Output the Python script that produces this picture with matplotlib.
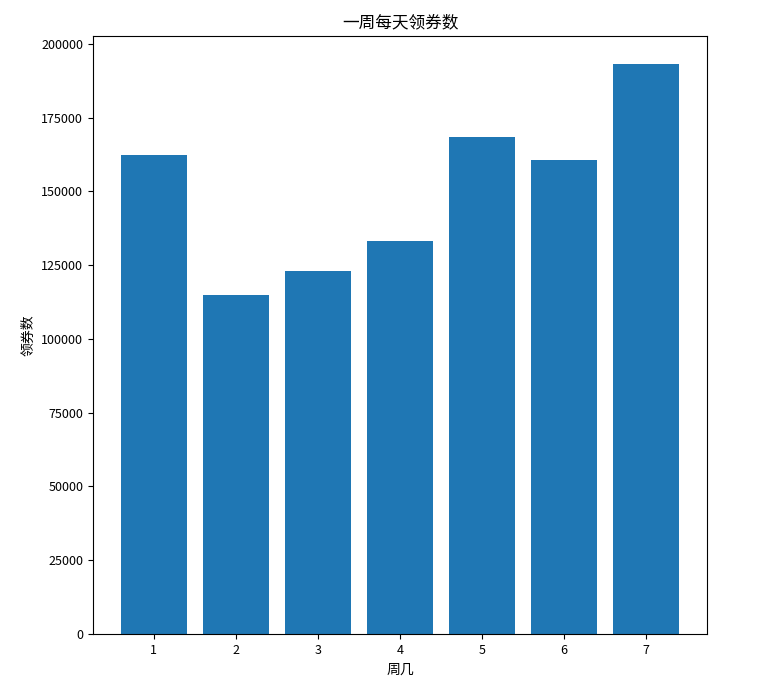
import matplotlib
matplotlib.use('Agg')
import matplotlib.pyplot as plt

plt.rcParams['font.family'] = ['Noto Sans CJK SC', 'DejaVu Sans']
plt.rcParams['axes.unicode_minus'] = False

weekday = [1, 2, 3, 4, 5, 6, 7]
coupons = [162300, 114800, 122900, 133050, 168300, 160550, 193000]

fig = plt.figure(figsize=(7.62, 6.82), dpi=100)
ax = fig.add_axes([93 / 762, 1 - 634 / 682, (707 - 93) / 762, (634 - 36) / 682])
ax.bar(weekday, coupons)
ax.set_title('一周每天领券数', fontsize=12)
ax.set_xlabel('周几', fontsize=10)
ax.set_ylabel('领券数', fontsize=10)
ax.tick_params(labelsize=9)

fig.savefig('out.png', dpi=100)
